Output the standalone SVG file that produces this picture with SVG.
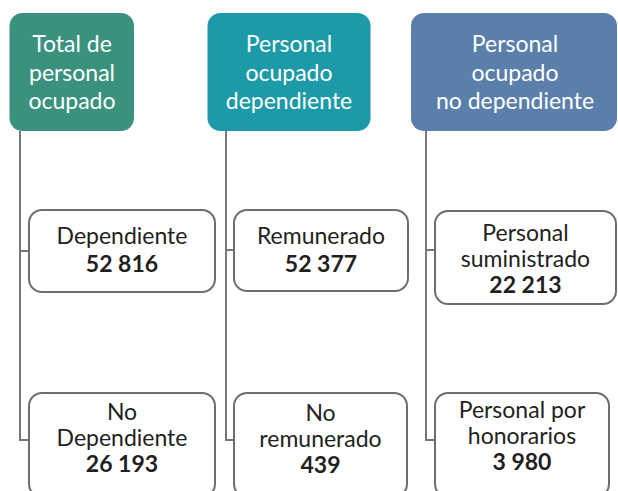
<svg xmlns="http://www.w3.org/2000/svg" width="618" height="491" viewBox="0 0 618 491">
<style>
text{font-family:Lato,"Open Sans",sans-serif;font-size:23px;text-anchor:middle}
.h text{fill:#ffffff}
.c rect{fill:#ffffff;stroke:#6e6e6e;stroke-width:2}
.c text{fill:#231f20}
.b{font-weight:bold}
.ln{fill:none;stroke:#777777;stroke-width:2}
</style>
<rect width="618" height="491" fill="#ffffff"/>
<g id="connectors">
<path class="ln" d="M20,131 V440 H29 M20,251 H29"/>
<path class="ln" d="M226,131 V440 H234 M226,250 H234"/>
<path class="ln" d="M426,131 V440 H435 M426,250 H435"/>
</g>
<g id="h1" class="h">
<rect x="9.5" y="13" width="124.5" height="118" rx="13" fill="#3a927e"/>
<text x="72" y="52">Total de</text>
<text x="72" y="80.5">personal</text>
<text x="72" y="109">ocupado</text>
</g>
<g id="h2" class="h">
<rect x="207.5" y="13" width="163" height="118" rx="13" fill="#1c9aa7"/>
<text x="289" y="52">Personal</text>
<text x="289" y="80.5">ocupado</text>
<text x="289" y="109">dependiente</text>
</g>
<g id="h3" class="h">
<rect x="411" y="13" width="206" height="118" rx="13" fill="#5a7fab"/>
<text x="515" y="52">Personal</text>
<text x="515" y="80.5">ocupado</text>
<text x="515" y="109">no dependiente</text>
</g>
<g id="n1" class="c">
<rect x="29" y="210" width="186" height="82" rx="13"/>
<text x="122" y="244">Dependiente</text>
<text x="122" y="272" class="b">52 816</text>
</g>
<g id="n2" class="c">
<rect x="29" y="393" width="186" height="104" rx="13"/>
<text x="122" y="420">No</text>
<text x="122" y="446">Dependiente</text>
<text x="122" y="472" class="b">26 193</text>
</g>
<g id="n3" class="c">
<rect x="234" y="210" width="174" height="81" rx="13"/>
<text x="321" y="244">Remunerado</text>
<text x="321" y="272" class="b">52 377</text>
</g>
<g id="n4" class="c">
<rect x="234" y="393" width="173" height="104" rx="13"/>
<text x="320.5" y="421">No</text>
<text x="320.5" y="447">remunerado</text>
<text x="320.5" y="473" class="b">439</text>
</g>
<g id="n5" class="c">
<rect x="435" y="211" width="181" height="93" rx="13"/>
<text x="525.5" y="241">Personal</text>
<text x="525.5" y="267">suministrado</text>
<text x="525.5" y="293" class="b">22 213</text>
</g>
<g id="n6" class="c">
<rect x="435" y="393" width="174" height="104" rx="13"/>
<text x="522" y="418">Personal por</text>
<text x="522" y="444">honorarios</text>
<text x="522" y="470" class="b">3 980</text>
</g>
</svg>
